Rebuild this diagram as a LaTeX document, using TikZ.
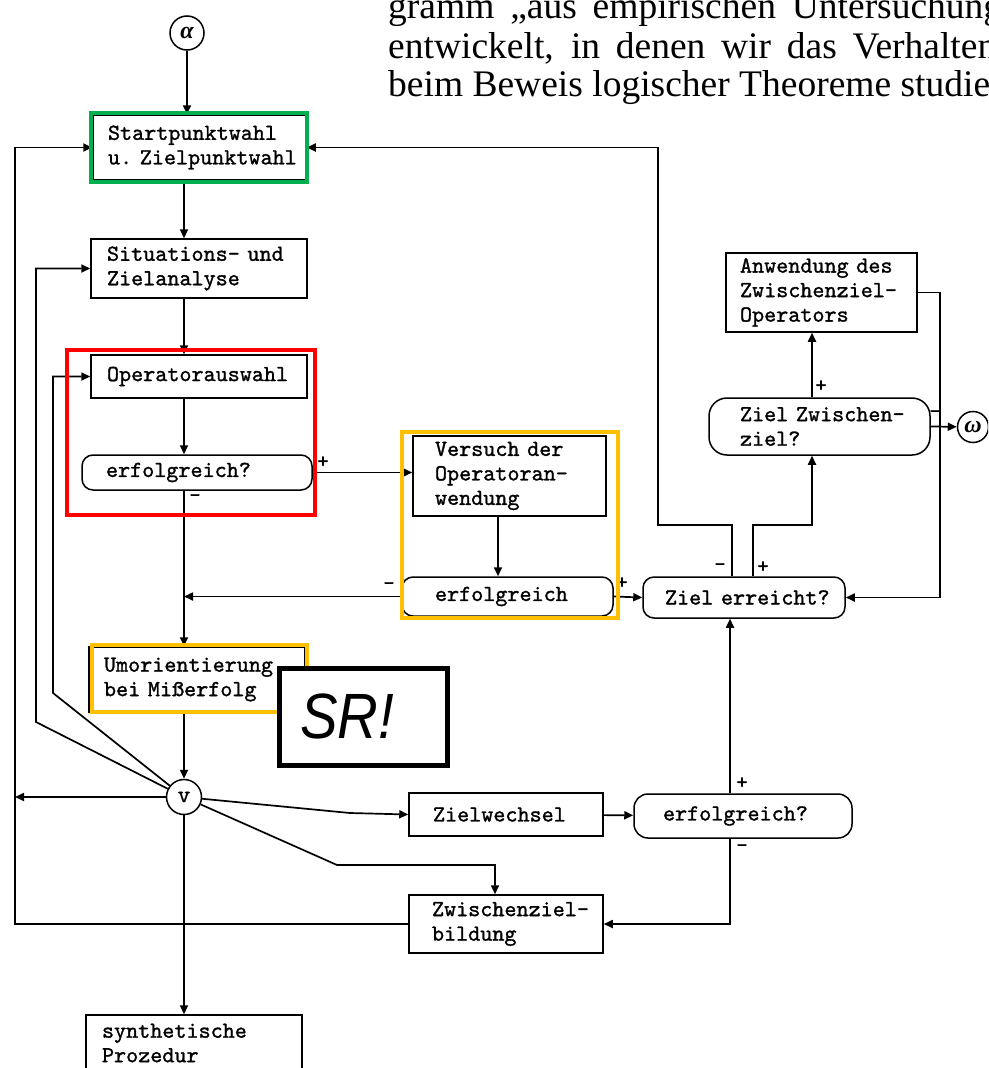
\documentclass[tikz,border=0pt]{standalone}
\usepackage{fontspec}
\setmainfont{Liberation Serif}
\newfontfamily\srfont{Liberation Sans}
\newfontfamily\typewriter{lmmono10-regular.otf}[FakeBold=1.2]
\usetikzlibrary{arrows.meta}
\definecolor{framegreen}{RGB}{0,176,80}
\definecolor{framered}{RGB}{255,0,0}
\definecolor{frameorange}{RGB}{255,192,0}
\hyphenpenalty=10000
\exhyphenpenalty=10000

\begin{document}
\begin{tikzpicture}[x=1pt, y=-1pt, >={Triangle[length=9pt, width=8pt]}]

    \tikzstyle{process} = [rectangle, draw=black, line width=1.5pt, align=left, inner sep=0pt, font=\fontsize{23}{24.5}\selectfont\typewriter]
    \tikzstyle{decision} = [process, rounded corners=11pt]
    \tikzstyle{junction} = [circle, draw=black, line width=1.5pt, inner sep=0pt, minimum size=35pt, font=\fontsize{24}{24}\selectfont\bfseries\itshape]
    \tikzstyle{arrow} = [line width=1.7pt, ->]
    \tikzstyle{sign} = [inner sep=0pt, font=\fontsize{22}{22}\selectfont\typewriter]
    \tikzstyle{highlight} = [line width=4pt]
    \tikzstyle{prose} = [anchor=base west, inner sep=0pt, font=\fontsize{37.5}{38}\selectfont]

    \useasboundingbox (0,0) rectangle (988,1068);
    \clip (0,0) rectangle (988,1068);

    % Text above
    \node (lineA) [prose] at (388,19) {\makebox[614pt][s]{gramm „aus empirischen Untersuchung}};
    \node (lineB) [prose] at (388,58) {\makebox[608pt][s]{entwickelt, in denen wir das Verhalten}};
    \node (lineC) [prose] at (388,96) {beim Beweis logischer Theoreme studie};

    % Nodes
    \node (alpha) [junction, minimum size=34pt] at (187,33) {α};
    \node (start) [process, minimum width=213pt, minimum height=65pt, text width=183pt] at (199.5,147.5) {Startpunktwahl\\u.~Zielpunktwahl};
    \node (situ) [process, minimum width=216pt, minimum height=59pt, text width=184pt] at (199,268.5) {Situations-~und\\Zielanalyse};
    \node (opsel) [process, minimum width=216pt, minimum height=43pt, text width=184pt] at (199,376.5) {Operatorauswahl};
    \node (test1) [decision, minimum width=230pt, minimum height=35pt, text width=182pt] at (197,472.5) {erfolgreich?};
    \node (try) [process, minimum width=193pt, minimum height=80pt, text width=149pt] at (509.5,476) {Versuch~der\\Operatoran-\\wendung};
    \node (test2) [decision, minimum width=211pt, minimum height=39pt, text width=145pt] at (507.5,596.5) {erfolgreich};
    \node (goal) [decision, minimum width=202pt, minimum height=41pt, text width=158pt] at (744,597.5) {Ziel~erreicht?};
    \node (sub) [decision, rounded corners=18pt, minimum width=221pt, minimum height=57pt, text width=159pt] at (819.5,426.5) {Ziel~Zwischen-\\ziel?};
    \node (apply) [process, minimum width=191pt, minimum height=79pt, text width=163pt] at (821.5,292.5) {Anwendung~des\\Zwischenziel-\\Operators};
    \node (omega) [junction, minimum size=31pt] at (973,427) {ω};
    \node (reor) [process, minimum width=216pt, minimum height=65pt, text width=186pt] at (197,679.5) {Umorientierung\\bei~Mißerfolg};
    \node (vor) [junction, font=\fontsize{24}{24}\selectfont\typewriter] at (184,797) {v};
    \node (chg) [process, minimum width=194pt, minimum height=43pt, text width=146pt] at (506,814.5) {Zielwechsel};
    \node (test3) [decision, rounded corners=14pt, minimum width=218pt, minimum height=44pt, text width=160pt] at (743,816) {erfolgreich?};
    \node (form) [process, minimum width=194pt, minimum height=58pt, text width=148pt] at (506,924) {Zwischenziel-\\bildung};
    \node (synth) [process, minimum width=216pt, minimum height=56pt, text width=184pt] at (194,1043) {synthetische\\Prozedur};

    % Bends
    \coordinate (lft) at (15,500);
    \coordinate (loopS) at (36,722);
    \coordinate (loopO) at (53,693);
    \coordinate (bendZ) at (350,813);
    \coordinate (bendF) at (337,865);
    \coordinate (backL) at (658,525);
    \coordinate (backR) at (812,525);
    \coordinate (rgt) at (940,500);

    % Arrows
    \draw [arrow] (alpha) -- (alpha |- start.north);
    \draw [arrow] (start.south -| vor) -- (situ.north -| vor);
    \draw [arrow] (situ.south -| vor) -- (opsel.north -| vor);
    \draw [arrow] (opsel.south -| vor) -- (test1.north -| vor);
    \draw [arrow] (test1.east) -- (try.west |- test1.east);
    \draw [arrow] (test1.south -| vor) -- (reor.north -| vor);
    \draw [arrow] ([xshift=-11.5pt]try.south) -- ([xshift=-11.5pt]try.south |- test2.north);
    \draw [arrow] (test2.west) -- (test2.west -| vor);
    \draw [arrow] (test2.east) -- (goal.west);
    \draw [arrow] ([xshift=-12pt]goal.north) |- (backL) |- (start.east);
    \draw [arrow] ([xshift=9pt]goal.north) |- (backR) -- (backR |- sub.south);
    \draw [arrow] (backR |- sub.north) -- (backR |- apply.south);
    \draw [arrow] (apply.east) -| (rgt) |- (goal.east);
    \draw [arrow] (sub.east) -- (omega);
    \draw [arrow] (reor.south -| vor) -- (vor);
    \draw [arrow] (vor) -- (vor -| lft);
    \draw [arrow] (form.west) -| (lft) |- (start.west);
    \draw [arrow] (vor) -- (loopS) |- (situ.west);
    \draw [arrow] (vor) -- (loopO) |- (opsel.west);
    \draw [arrow] (vor) -- (bendZ) -- (chg.west);
    \draw [arrow] (vor) -- (bendF) -| ([xshift=-11pt]form.north);
    \draw [arrow] (vor) -- (vor |- synth.north);
    \draw [arrow] (chg) -- (test3);
    \draw [arrow] ([xshift=-13pt]test3.north) -- ([xshift=-13pt]test3.north |- goal.south);
    \draw [arrow] ([xshift=-13pt]test3.south) |- (form.east);

    % Signs
    \node (plusA) [sign] at (323,462) {+};
    \node (minusA) [sign] at (195,498) {-};
    \node (minusB) [sign] at (389,586) {-};
    \node (plusB) [sign] at (622,583) {+};
    \node (minusC) [sign] at (720,567) {-};
    \node (plusC) [sign] at (763,567) {+};
    \node (plusD) [sign] at (821,386) {+};
    \node (minusD) [sign] at (935,414) {-};
    \node (plusE) [sign] at (742,783) {+};
    \node (minusE) [sign] at (742,848) {-};

    % Highlights
    \draw [highlight, framegreen] (91,113) rectangle (307,182);
    \draw [highlight, framered] (67,350) rectangle (315,515);
    \draw [highlight, frameorange] (402,432) rectangle (618,618);
    \draw [highlight, frameorange] (92,645) rectangle (307,712);
    \node (sr) [draw=black, line width=5pt, fill=white, minimum width=168pt, minimum height=97pt, text width=126pt, align=left, inner sep=0pt, font=\srfont\itshape\fontsize{64}{64}\selectfont] at (363,716.5) {\scalebox{0.88}[1]{SR!}};

\end{tikzpicture}
\end{document}
